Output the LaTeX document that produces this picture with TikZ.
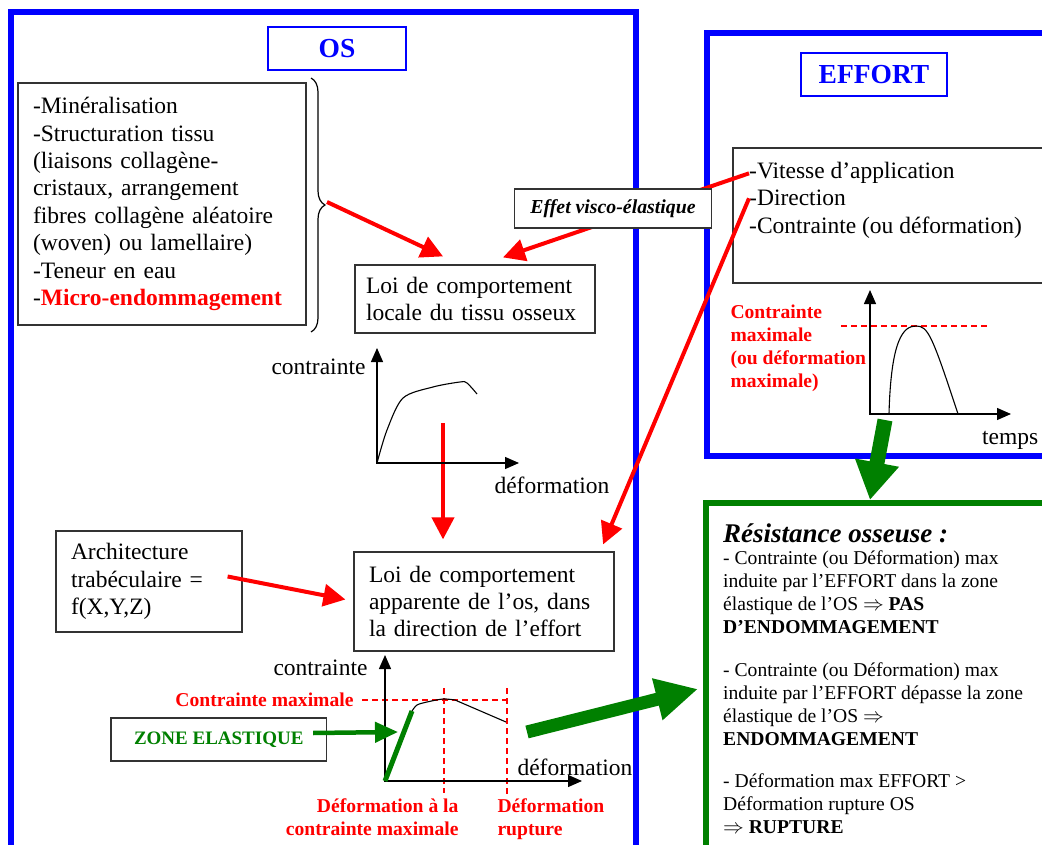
\documentclass[tikz,border=0pt]{standalone}
\usepackage{fontspec}
\setmainfont{Liberation Serif}
\usepackage{amsmath}
\usetikzlibrary{arrows.meta,calc,decorations.pathreplacing}
\definecolor{vertfonce}{RGB}{0,128,0}
\newcommand{\taille}[2]{\fontsize{#1}{#2}\selectfont}

\begin{document}
\begin{tikzpicture}[x=1pt,y=-1pt,
    cadre/.style={line width=6pt},
    boite/.style={draw=black!80,line width=1.2pt,fill=white,align=left,inner xsep=15pt},
    titre/.style={draw=blue,line width=1.3pt,text=blue,font=\taille{27.5}{30}\bfseries,minimum height=43pt},
    corps/.style={font=\taille{23.5}{27.4}},
    rouge/.style={text=red,font=\taille{19.6}{23}\bfseries},
    fleche/.style={red,line width=4pt,-{Triangle[length=22pt,width=22pt]}},
    axe/.style={line width=1.3pt,-{Triangle[length=14pt,width=12pt]}},
    courbe/.style={line width=1.1pt},
    tirets/.style={red,line width=1.2pt,dash pattern=on 6pt off 4pt}]
    \useasboundingbox (0,0) rectangle (1042,845);

    % les trois cadres
    \draw[cadre,blue] (11,12.5) rectangle (636,880);
    \draw[cadre,blue] (707,33.5) rectangle (1070,455.5);
    \draw[cadre,vertfonce] (706,503) rectangle (1070,880);

    \node[titre,minimum width=138pt] (titreOS) at (337,48.5) {OS};
    \node[titre,minimum width=146pt] (titreEffort) at (874,74.5) {EFFORT};

    % facteurs du tissu
    \node[boite,corps,text width=258pt,minimum height=242pt] (facteursOS) at (162,204)
      {-Minéralisation\\-Structuration tissu\\(liaisons collagène-\\cristaux, arrangement\\fibres collagène aléatoire\\(woven) ou lamellaire)\\-Teneur en eau\\-\textcolor{red}{\textbf{Micro-endommagement}}};
    \draw[line width=1.2pt,decorate,decoration={brace,amplitude=14pt}] (311,78) -- (311,332);
    \coordinate (pointeAccolade) at (327,202);

    \node[boite,corps,inner xsep=11pt,text width=218pt,minimum height=68pt] (loiLocale) at (475,299)
      {Loi de comportement\\locale du tissu osseux};
    \node[boite,corps,text width=156pt,minimum height=101pt] (archi) at (149,581.5)
      {Architecture\\trabéculaire =\\f(X,Y,Z)};
    \node[boite,corps,text width=230pt,minimum height=99pt] (loiApparente) at (484,601.5)
      {Loi de comportement\\apparente de l’os, dans\\la direction de l’effort};

    % effort
    \node[boite,minimum width=327pt,minimum height=135pt] (facteursEffort) at (896.5,215.5) {};
    \node[corps,anchor=base west,inner sep=0pt] (vitesse) at (749,179) {-Vitesse d’application};
    \node[corps,anchor=base west,inner sep=0pt] (direction) at (749,206) {-Direction};
    \node[corps,anchor=base west,inner sep=0pt] (contrainteEff) at (749,234) {-Contrainte (ou déformation)};

    \draw[fleche] (pointeAccolade) -- ([xshift=-32pt,yshift=8pt]loiLocale.north);
    \draw[fleche] (vitesse.west) -- ([xshift=28pt,yshift=7pt]loiLocale.north);
    \draw[fleche] (direction.west) -- ([xshift=-11.5pt,yshift=7pt]loiApparente.north east);
    \draw[fleche] ([xshift=-15pt,yshift=5pt]archi.east) -- ([xshift=-8pt,yshift=2pt]loiApparente.west);
    \coordinate (sortieLocale) at (443,423);
    \draw[fleche] (sortieLocale) -- ([xshift=-41pt,yshift=12pt]loiApparente.north);

    \node[boite,font=\taille{19.8}{22}\bfseries\itshape,minimum width=197pt,minimum height=39pt,align=center] (visco) at (613,208.5) {Effet visco-élastique};

    % courbe locale
    \draw[axe] (377,463) -- (377,348);
    \draw[axe] (376,463) -- (519,463);
    \draw[courbe] plot[smooth] coordinates {(377,463) (387,430) (403,398) (433,387) (460,382) (467,383) (477,394)};
    \node[corps,anchor=base east] (contrainteA) at (369,374) {contrainte};
    \node[corps,anchor=base west] (deformationA) at (491,493) {déformation};

    % courbe apparente
    \draw[tirets] (362,700) -- (508,700);
    \draw[tirets] (444,688) -- (444,793);
    \draw[tirets] (507,688) -- (507,797);
    \draw[axe] (385,781) -- (385,655);
    \draw[axe] (384,781) -- (582,781);
    \draw[courbe] plot[smooth] coordinates {(412,711) (417,705) (427,702) (443,699) (455,700)} -- (506,722);
    \draw[vertfonce,line width=5pt] (385,781) -- (412,711);
    \node[corps,anchor=base east] (contrainteB) at (371,675) {contrainte};
    \node[corps,anchor=base west] (deformationB) at (514,775) {déformation};
    \node[rouge,anchor=base east] (cmax) at (357,706) {Contrainte maximale};
    \node[rouge,align=right,anchor=east] (defCmax) at (462,817) {Déformation à la\\contrainte maximale};
    \node[rouge,align=left,anchor=west] (defRupture) at (494,819.5) {Déformation\\rupture};

    \node[boite,text=vertfonce,font=\taille{19}{22}\bfseries,minimum width=215.5pt,minimum height=43pt,align=center] (zoneElast) at (218.75,739.5) {ZONE ELASTIQUE};
    \coordinate (pointeElast) at (398,732);
    \draw[vertfonce,line width=4.5pt,-{Triangle[length=23pt,width=20pt]}] ([xshift=-14pt,yshift=6.5pt]zoneElast.east) -- (pointeElast);

    % courbe de l'effort
    \draw[tirets] (841,326) -- (989,326);
    \draw[axe] (870,414) -- (870,290);
    \draw[axe] (869,414) -- (1011,414);
    \draw[courbe] (889,414) .. controls (891,340) and (903,326) .. (916,326) .. controls (928,326) and (932,335) .. (958,414);
    \node[corps,anchor=base west,inner sep=0pt] (temps) at (982,444) {temps};
    \node[rouge,align=left,anchor=west] (cmaxEff) at (727,348.5) {Contrainte\\maximale\\(ou déformation\\maximale)};

    % vers la resistance
    \coordinate (sortieEffort) at (885,420);
    \coordinate (entreeRes) at (870,500);
    \draw[vertfonce,line width=15pt,-{Triangle[length=38pt,width=42pt]}] (sortieEffort) -- (entreeRes);
    \coordinate (departRes) at (527,732);
    \coordinate (arriveeRes) at (698,689);
    \draw[vertfonce,line width=13pt,-{Triangle[length=42pt,width=40pt]}] (departRes) -- (arriveeRes);

    \node[anchor=base west,inner sep=0pt,font=\taille{27}{30}\bfseries\itshape] (resTitre) at (723,542) {Résistance osseuse :};
    \node[anchor=north west,inner sep=0pt,align=left,font=\taille{19.6}{23}] (resTexte) at (723,550)
      {- Contrainte (ou Déformation) max\\induite par l’EFFORT dans la zone\\élastique de l’OS $\Rightarrow$ \textbf{PAS}\\\textbf{D’ENDOMMAGEMENT}\\[20pt]
       - Contrainte (ou Déformation) max\\induite par l’EFFORT dépasse la zone\\élastique de l’OS $\Rightarrow$\\\textbf{ENDOMMAGEMENT}\\[19pt]
       - Déformation max EFFORT >\\Déformation rupture OS\\$\Rightarrow$ \textbf{RUPTURE}};
\end{tikzpicture}
\end{document}
